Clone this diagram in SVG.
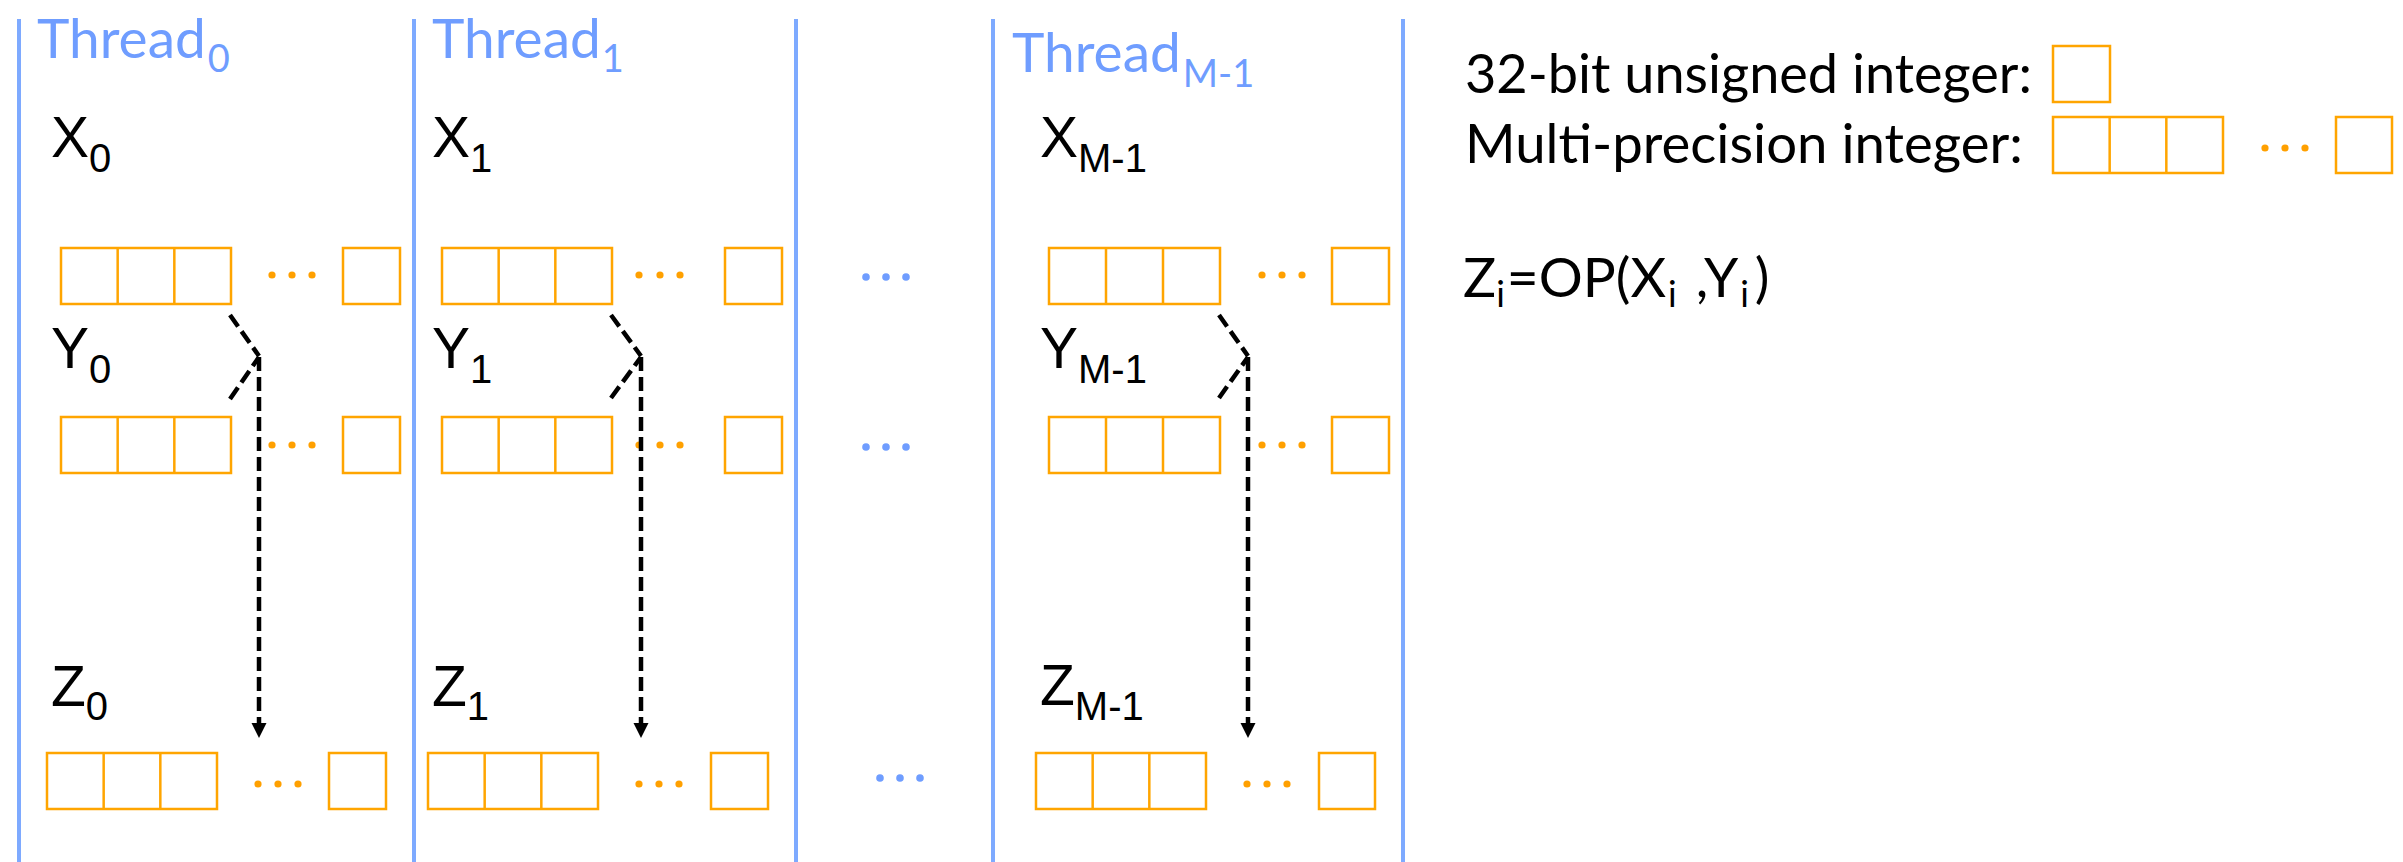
<svg xmlns="http://www.w3.org/2000/svg" width="2403" height="862" viewBox="0 0 2403 862">
  <defs>
    <style>
      .lane { stroke: #7eaaff; stroke-width: 4; }
      .cell { fill: none; stroke: #ffa500; stroke-width: 2.5; }
      .dot { fill: #ffa000; }
      .bdot { fill: #6f9dff; }
      .thr { font-family: Lato, "Liberation Sans", sans-serif; font-size: 55px; fill: #6f9dff; }
      .thr .sub { font-size: 38px; }
      .var { font-family: "Liberation Sans", Arial, sans-serif; font-size: 57px; fill: #000; }
      .var .sub { font-size: 40px; }
      .leg { font-family: Lato, "Liberation Sans", sans-serif; font-size: 55px; fill: #000; }
      .leg .sub { font-size: 36px; }
      .flow { fill: none; stroke: #000; stroke-width: 4.5; stroke-dasharray: 14 6; }
    </style>
    <marker id="arr" markerUnits="userSpaceOnUse" markerWidth="16" markerHeight="16" viewBox="0 0 16 16" refX="1" refY="8" orient="auto">
      <path d="M0,0.5 L15,8 L0,15.5 Z" fill="#000"/>
    </marker>
  </defs>

  <rect width="2403" height="862" fill="#fff"/>

  <!-- lane separators -->
  <g id="lanes">
    <line class="lane" x1="19" y1="19" x2="19" y2="862"/>
    <line class="lane" x1="414" y1="19" x2="414" y2="862"/>
    <line class="lane" x1="796" y1="19" x2="796" y2="862"/>
    <line class="lane" x1="993" y1="19" x2="993" y2="862"/>
    <line class="lane" x1="1403" y1="19" x2="1403" y2="862"/>
  </g>

  <!-- thread 0 -->
  <g id="thread0">
    <text class="thr" x="37" y="58">Thread<tspan class="sub" dx="2" y="72">0</tspan></text>
    <text class="var" x="51" y="157">X<tspan class="sub" y="172">0</tspan></text>
    <path class="cell" d="M61,248h170v56h-170z M117.67,248v56 M174.33,248v56"/>
    <circle class="dot" cx="272" cy="275" r="3.6"/><circle class="dot" cx="292" cy="275" r="3.6"/><circle class="dot" cx="312" cy="275" r="3.6"/>
    <rect class="cell" x="343" y="248" width="57" height="56"/>
    <text class="var" x="51" y="368">Y<tspan class="sub" y="383">0</tspan></text>
    <path class="cell" d="M61,417h170v56h-170z M117.67,417v56 M174.33,417v56"/>
    <circle class="dot" cx="272" cy="445" r="3.6"/><circle class="dot" cx="292" cy="445" r="3.6"/><circle class="dot" cx="312" cy="445" r="3.6"/>
    <rect class="cell" x="343" y="417" width="57" height="56"/>
    <text class="var" x="51" y="706">Z<tspan class="sub" y="720">0</tspan></text>
    <path class="cell" d="M47,753h170v56h-170z M103.67,753v56 M160.33,753v56"/>
    <circle class="dot" cx="258" cy="784" r="3.6"/><circle class="dot" cx="278" cy="784" r="3.6"/><circle class="dot" cx="298" cy="784" r="3.6"/>
    <rect class="cell" x="329" y="753" width="57" height="56"/>
  </g>

  <!-- thread 1 -->
  <g id="thread1">
    <text class="thr" x="432" y="58">Thread<tspan class="sub" dx="1" y="72">1</tspan></text>
    <text class="var" x="432" y="157">X<tspan class="sub" y="172">1</tspan></text>
    <path class="cell" d="M442,248h170v56h-170z M498.67,248v56 M555.33,248v56"/>
    <circle class="dot" cx="639" cy="275" r="3.6"/><circle class="dot" cx="660" cy="275" r="3.6"/><circle class="dot" cx="680" cy="275" r="3.6"/>
    <rect class="cell" x="725" y="248" width="57" height="56"/>
    <text class="var" x="432" y="368">Y<tspan class="sub" y="383">1</tspan></text>
    <path class="cell" d="M442,417h170v56h-170z M498.67,417v56 M555.33,417v56"/>
    <circle class="dot" cx="639" cy="445" r="3.6"/><circle class="dot" cx="660" cy="445" r="3.6"/><circle class="dot" cx="680" cy="445" r="3.6"/>
    <rect class="cell" x="725" y="417" width="57" height="56"/>
    <text class="var" x="432" y="706">Z<tspan class="sub" y="720">1</tspan></text>
    <path class="cell" d="M428,753h170v56h-170z M484.67,753v56 M541.33,753v56"/>
    <circle class="dot" cx="639" cy="784" r="3.6"/><circle class="dot" cx="659" cy="784" r="3.6"/><circle class="dot" cx="679" cy="784" r="3.6"/>
    <rect class="cell" x="711" y="753" width="57" height="56"/>
  </g>

  <!-- elided threads -->
  <g id="threads-elided">
    <circle class="bdot" cx="866" cy="277" r="3.8"/><circle class="bdot" cx="886" cy="277" r="3.8"/><circle class="bdot" cx="906" cy="277" r="3.8"/>
    <circle class="bdot" cx="866" cy="447" r="3.8"/><circle class="bdot" cx="886" cy="447" r="3.8"/><circle class="bdot" cx="906" cy="447" r="3.8"/>
    <circle class="bdot" cx="880" cy="778" r="3.8"/><circle class="bdot" cx="900" cy="778" r="3.8"/><circle class="bdot" cx="920" cy="778" r="3.8"/>
  </g>

  <!-- thread M-1 -->
  <g id="threadM1">
    <text class="thr" x="1012" y="72">Thread<tspan class="sub" dx="2" y="87">M-1</tspan></text>
    <text class="var" x="1040" y="157">X<tspan class="sub" y="172">M-1</tspan></text>
    <path class="cell" d="M1049,248h171v56h-171z M1106,248v56 M1163,248v56"/>
    <circle class="dot" cx="1262" cy="275" r="3.6"/><circle class="dot" cx="1282" cy="275" r="3.6"/><circle class="dot" cx="1302" cy="275" r="3.6"/>
    <rect class="cell" x="1332" y="248" width="57" height="56"/>
    <text class="var" x="1040" y="368">Y<tspan class="sub" y="383">M-1</tspan></text>
    <path class="cell" d="M1049,417h171v56h-171z M1106,417v56 M1163,417v56"/>
    <circle class="dot" cx="1262" cy="445" r="3.6"/><circle class="dot" cx="1282" cy="445" r="3.6"/><circle class="dot" cx="1302" cy="445" r="3.6"/>
    <rect class="cell" x="1332" y="417" width="57" height="56"/>
    <text class="var" x="1040" y="705">Z<tspan class="sub" y="720">M-1</tspan></text>
    <path class="cell" d="M1036,753h170v56h-170z M1092.67,753v56 M1149.33,753v56"/>
    <circle class="dot" cx="1247" cy="784" r="3.6"/><circle class="dot" cx="1267" cy="784" r="3.6"/><circle class="dot" cx="1287" cy="784" r="3.6"/>
    <rect class="cell" x="1319" y="753" width="56" height="56"/>
  </g>

  <!-- operand flow: X and Y merge into Z -->
  <g id="connectors">
    <path class="flow" d="M230,315 L259,356"/>
    <path class="flow" d="M230,399 L259,357"/>
    <path class="flow" d="M259,357 V724" marker-end="url(#arr)"/>
    <path class="flow" d="M611,315 L641,356"/>
    <path class="flow" d="M611,398 L641,357"/>
    <path class="flow" d="M641,357 V724" marker-end="url(#arr)"/>
    <path class="flow" d="M1219,315 L1248,356"/>
    <path class="flow" d="M1219,398 L1248,357"/>
    <path class="flow" d="M1248,357 V724" marker-end="url(#arr)"/>
  </g>

  <!-- legend -->
  <g id="legend">
    <text class="leg" x="1465" y="93" textLength="567" lengthAdjust="spacingAndGlyphs">32-bit unsigned integer:</text>
    <rect class="cell" x="2053" y="46" width="57" height="56"/>
    <text class="leg" x="1465" y="163" textLength="558" lengthAdjust="spacingAndGlyphs">Multi-precision integer:</text>
    <path class="cell" d="M2053,117h170v56h-170z M2109.67,117v56 M2166.33,117v56"/>
    <circle class="dot" cx="2265" cy="148" r="3.6"/><circle class="dot" cx="2285" cy="148" r="3.6"/><circle class="dot" cx="2305" cy="148" r="3.6"/>
    <rect class="cell" x="2336" y="117" width="56" height="56"/>
    <text class="leg" x="1463" y="297" font-size="67">Z<tspan class="sub" dy="10">i</tspan><tspan dy="-10" dx="2">=OP(X</tspan><tspan class="sub" dy="10" dx="2">i</tspan><tspan dy="-10" dx="5"> ,Y</tspan><tspan class="sub" dy="10" dx="2">i</tspan><tspan dy="-10" dx="6">)</tspan></text>
  </g>
</svg>
